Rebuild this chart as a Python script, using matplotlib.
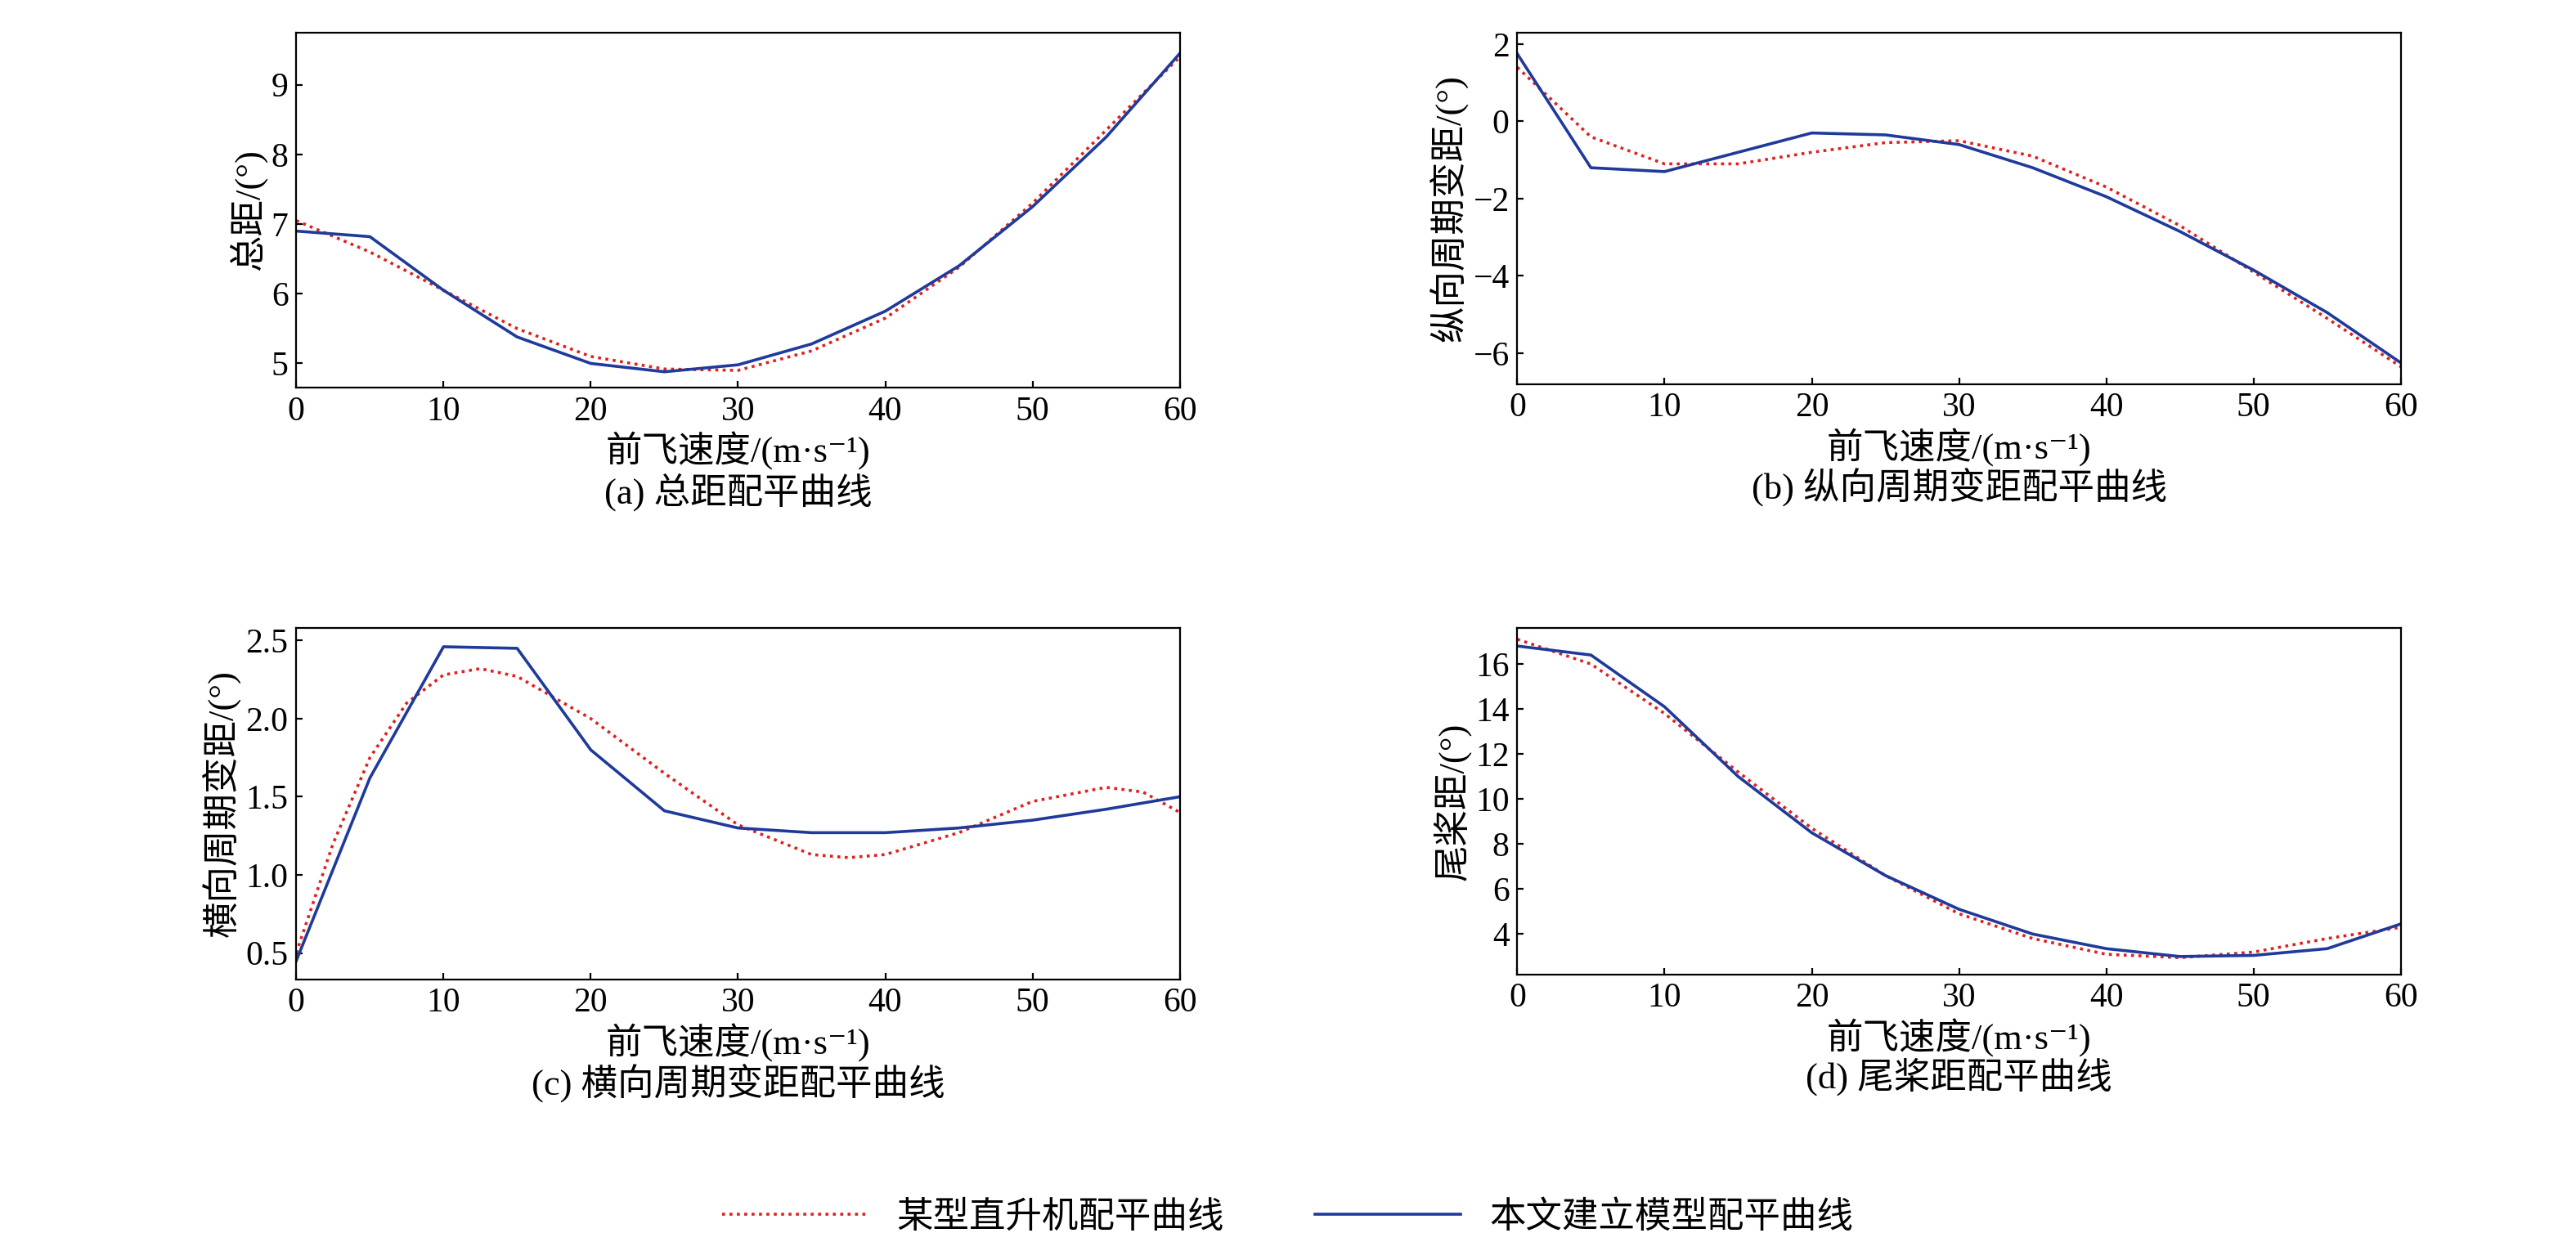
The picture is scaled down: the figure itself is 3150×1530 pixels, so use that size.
import matplotlib
matplotlib.use('Agg')
import matplotlib.pyplot as plt

plt.rcParams['font.family'] = ['Liberation Serif', 'Noto Sans CJK SC', 'DejaVu Serif']

speed = [0, 5, 10, 15, 20, 25, 30, 35, 40, 45, 50, 55, 60]

# (a) collective
a_model = [6.9, 6.82, 6.05, 5.38, 5.0, 4.88, 4.98, 5.28, 5.75, 6.4, 7.25, 8.25, 9.45]
a_heli = [7.05, 6.6, 6.05, 5.5, 5.1, 4.92, 4.9, 5.18, 5.65, 6.38, 7.3, 8.35, 9.4]
# (b) longitudinal cyclic
b_model = [1.75, -1.2, -1.3, -0.8, -0.3, -0.35, -0.6, -1.2, -1.95, -2.85, -3.85, -4.95, -6.25]
b_heli = [1.4, -0.4, -1.1, -1.1, -0.8, -0.55, -0.5, -0.9, -1.7, -2.7, -3.9, -5.1, -6.35]
# (c) lateral cyclic
c_model = [0.45, 1.62, 2.46, 2.45, 1.8, 1.41, 1.3, 1.27, 1.27, 1.3, 1.35, 1.42, 1.5]
c_heli_x = [0, 2.5, 5, 7.5, 10, 12.5, 15, 20, 25, 30, 35, 37.5, 40, 45, 50, 55, 57.5, 60]
c_heli = [0.5, 1.2, 1.75, 2.1, 2.28, 2.32, 2.27, 2.0, 1.65, 1.32, 1.13, 1.11, 1.13, 1.27, 1.47, 1.56, 1.53, 1.4]
# (d) tail rotor
d_model = [16.8, 16.4, 14.1, 11.0, 8.5, 6.6, 5.1, 4.0, 3.35, 3.0, 3.05, 3.35, 4.45]
d_heli = [17.1, 16.0, 13.8, 11.2, 8.7, 6.6, 4.9, 3.8, 3.1, 2.95, 3.2, 3.8, 4.3]

panels = [
    ([0.115, 0.69, 0.343, 0.284], speed, a_heli, a_model, '总距/(°)', '(a) 总距配平曲线', (4.65, 9.75), [5, 6, 7, 8, 9]),
    ([0.589, 0.693, 0.343, 0.281], speed, b_heli, b_model, '纵向周期变距/(°)', '(b) 纵向周期变距配平曲线', (-6.8, 2.3), [-6, -4, -2, 0, 2]),
    ([0.115, 0.217, 0.343, 0.281], c_heli_x, c_heli, c_model, '横向周期变距/(°)', '(c) 横向周期变距配平曲线', (0.33, 2.58), [0.5, 1.0, 1.5, 2.0, 2.5]),
    ([0.589, 0.221, 0.343, 0.277], speed, d_heli, d_model, '尾桨距/(°)', '(d) 尾桨距配平曲线', (2.2, 17.6), [4, 6, 8, 10, 12, 14, 16]),
]

fig = plt.figure(figsize=(15.75, 7.65), dpi=200)
for rect, hx, hy, my, ylab, title, ylim, yt in panels:
    ax = fig.add_axes(rect)
    l1, = ax.plot(hx, hy, color='#e02020', linestyle=(0, (1, 1.5)), linewidth=1.3)
    l2, = ax.plot(speed, my, color='#1f3a9a', linewidth=1.3)
    ax.set_xlim(0, 60)
    ax.set_ylim(*ylim)
    ax.set_xticks(range(0, 61, 10))
    ax.set_yticks(yt)
    if yt[0] == 0.5:
        ax.set_yticklabels([f'{v:.1f}' for v in yt])
    ax.tick_params(direction='in', labelsize=15, length=3)
    ax.set_ylabel(ylab, fontsize=16, labelpad=2)
    ax.set_xlabel('前飞速度/(m·s⁻¹)', fontsize=16, labelpad=2)
    ax.text(0.5, -0.24, title, transform=ax.transAxes, ha='center', va='top', fontsize=16)

fig.legend([l1, l2], ['某型直升机配平曲线', '本文建立模型配平曲线'], loc='center',
           bbox_to_anchor=(0.5, 0.027), ncol=2, frameon=False, fontsize=16,
           handlelength=4, columnspacing=2.5)
fig.savefig('out.png')
